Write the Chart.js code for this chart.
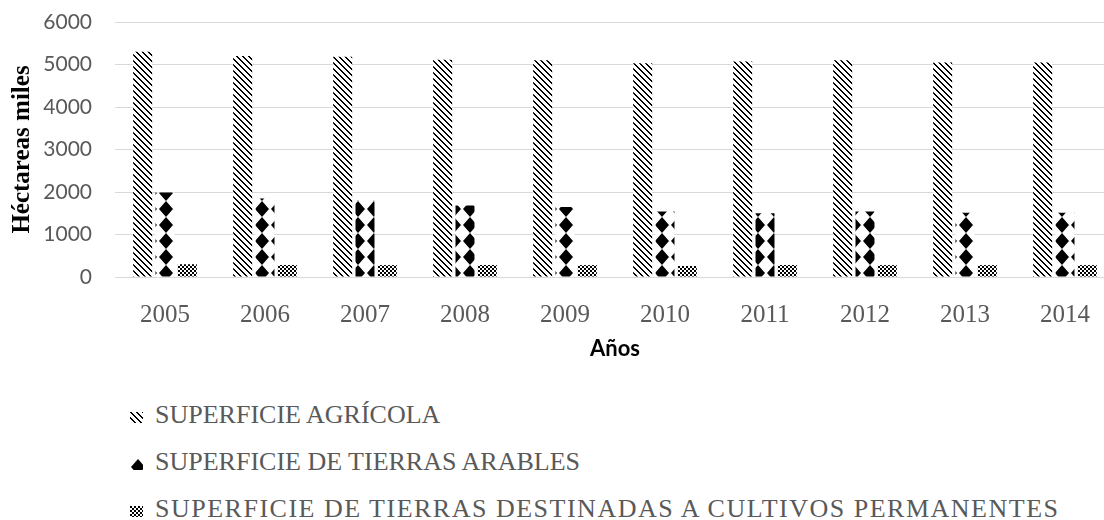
<!DOCTYPE html>
<html lang="es">
<head>
<meta charset="utf-8">
<title>Superficie agrícola 2005-2014</title>
<script src="https://cdn.jsdelivr.net/npm/chart.js@4.4.1/dist/chart.umd.min.js"></script>
<style>
    html, body { margin: 0; padding: 0; background: #fff; overflow: hidden; }
    body { width: 1104px; height: 520px; position: relative; }
    #chartBox { position: absolute; left: 0; top: 0; width: 1120px; height: 380px; }
    .legend-item { position: absolute; left: 0; width: 1104px; height: 30px; }
    .legend-item canvas { position: absolute; left: 130px; top: 12px; }
    .legend-item span {
        position: absolute; left: 155px; top: 0; white-space: nowrap;
        font: 26px/30px "Liberation Serif", "Times New Roman", serif; color: #595959;
    }
    .legend-item.wide span { letter-spacing: 1.5px; }
</style>
</head>
<body>
<div id="chartBox"><canvas id="myChart"></canvas></div>
<div id="legend"></div>
<script>
// Chart data (hectáreas, miles)
const years = ['2005', '2006', '2007', '2008', '2009', '2010', '2011', '2012', '2013', '2014'];
const seriesNames = [
    'SUPERFICIE AGRÍCOLA',
    'SUPERFICIE DE TIERRAS ARABLES',
    'SUPERFICIE DE TIERRAS DESTINADAS A CULTIVOS PERMANENTES'
];
const agricola = [5300, 5200, 5180, 5110, 5100, 5030, 5070, 5100, 5050, 5050];
const arables = [1990, 1850, 1800, 1680, 1650, 1540, 1500, 1540, 1510, 1510];
const permanentes = [300, 282, 280, 282, 280, 260, 282, 280, 280, 280];
const yTicks = [0, 1000, 2000, 3000, 4000, 5000, 6000];

// Small bitmap tiles for the black & white fill patterns
function makeTile(w, h, paint) {
    const c = document.createElement('canvas');
    c.width = w;
    c.height = h;
    const g = c.getContext('2d');
    g.fillStyle = '#fff';
    g.fillRect(0, 0, w, h);
    g.fillStyle = '#000';
    paint(g);
    return c;
}

// downward diagonal, dotted
const stripeTile = makeTile(6, 6, g => {
    for (let y = 0; y < 6; y++) {
        for (let x = 0; x < 6; x++) {
            if ((x - y + 6) % 6 < 2) g.fillRect(x, y, 1, 1);
        }
    }
});

// stacked solid diamonds
const diamondTile = makeTile(16, 16, g => {
    g.beginPath();
    g.moveTo(8, 0);
    g.lineTo(15, 8);
    g.lineTo(8, 16);
    g.lineTo(1, 8);
    g.closePath();
    g.fill();
});

// small checker
const checkTile = makeTile(4, 4, g => {
    g.fillRect(0, 0, 2, 2);
    g.fillRect(2, 2, 2, 2);
});

const tiles = [stripeTile, diamondTile, checkTile];

const ctx = document.getElementById('myChart').getContext('2d');
const fills = tiles.map(t => ctx.createPattern(t, 'repeat'));
// line the diamonds up with the bars
fills[1].setTransform(new DOMMatrix([1, 0, 0, 1, -2, 9]));

const myChart = new Chart(ctx, {
    type: 'bar',
    data: {
        labels: years,
        datasets: [
            { label: seriesNames[0], data: agricola, backgroundColor: fills[0] },
            { label: seriesNames[1], data: arables, backgroundColor: fills[1] },
            { label: seriesNames[2], data: permanentes, backgroundColor: fills[2] }
        ]
    },
    options: {
        responsive: true,
        maintainAspectRatio: false,
        animation: false,
        layout: { padding: { top: 22, right: 5, bottom: 0, left: 0 } },
        datasets: {
            bar: { categoryPercentage: 0.67, barPercentage: 0.85, borderWidth: 0 }
        },
        plugins: {
            legend: { display: false },
            tooltip: { enabled: false }
        },
        scales: {
            x: {
                grid: { display: false },
                border: { display: false },
                ticks: {
                    color: '#595959',
                    padding: 15,
                    maxRotation: 0,
                    autoSkip: false,
                    font: { family: '"Liberation Serif", serif', size: 25 }
                },
                title: {
                    display: true,
                    text: 'Años',
                    color: '#000',
                    padding: { top: 0, bottom: 18 },
                    font: { family: 'Lato, "Open Sans", sans-serif', size: 22, weight: 'bold' }
                },
                afterFit: scale => { scale.height = 103; }
            },
            y: {
                min: yTicks[0],
                max: yTicks[yTicks.length - 1],
                grid: { color: '#d9d9d9', lineWidth: 1, drawTicks: false },
                border: { display: false },
                ticks: {
                    stepSize: yTicks[1] - yTicks[0],
                    color: '#595959',
                    padding: 23,
                    font: { family: 'Lato, "Open Sans", sans-serif', size: 21 },
                    callback: value => String(value)
                },
                title: {
                    display: true,
                    text: 'Héctareas miles',
                    color: '#000',
                    padding: { top: 8, bottom: 0 },
                    font: { family: '"Liberation Serif", serif', size: 25, weight: 'bold' }
                },
                afterFit: scale => {
                    scale.width = 115;
                    // the tick padding is only meant horizontally
                    scale.paddingTop = 13;
                    scale.paddingBottom = 13;
                }
            }
        }
    }
});

// Legend: one entry per line under the chart
const legend = document.getElementById('legend');
const legendTops = [400, 447, 494];
seriesNames.forEach((name, i) => {
    const item = document.createElement('div');
    item.className = i === 2 ? 'legend-item wide' : 'legend-item';
    item.style.top = legendTops[i] + 'px';

    const swatch = document.createElement('canvas');
    swatch.width = 13;
    swatch.height = 11;
    const sctx = swatch.getContext('2d');
    sctx.fillStyle = sctx.createPattern(tiles[i], 'repeat');
    sctx.fillRect(0, 0, 13, 11);

    const label = document.createElement('span');
    label.textContent = name;

    item.appendChild(swatch);
    item.appendChild(label);
    legend.appendChild(item);
});
</script>
</body>
</html>
